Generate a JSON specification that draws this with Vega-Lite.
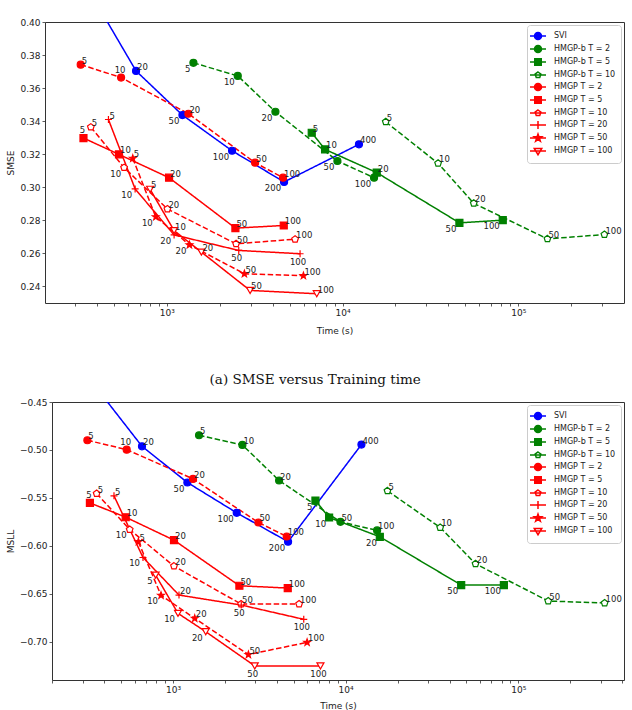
{
  "$schema": "https://vega.github.io/schema/vega-lite/v6.json",
  "padding": {"left": 5, "top": 17, "right": 3, "bottom": 2},
  "background": "white",
  "spacing": 36,
  "datasets": {
    "smse": [
      {"series": "SVI", "n": 10, "t": 335, "v": 0.425},
      {"series": "SVI", "n": 20, "t": 669, "v": 0.3704},
      {"series": "SVI", "n": 50, "t": 1228, "v": 0.3437},
      {"series": "SVI", "n": 100, "t": 2353, "v": 0.3221},
      {"series": "SVI", "n": 200, "t": 4650, "v": 0.3032},
      {"series": "SVI", "n": 400, "t": 12400, "v": 0.326},
      {"series": "HMGP-b T = 2", "n": 5, "t": 1418, "v": 0.3753},
      {"series": "HMGP-b T = 2", "n": 10, "t": 2535, "v": 0.3674},
      {"series": "HMGP-b T = 2", "n": 20, "t": 4151, "v": 0.3457},
      {"series": "HMGP-b T = 2", "n": 50, "t": 9350, "v": 0.3159},
      {"series": "HMGP-b T = 2", "n": 100, "t": 15110, "v": 0.3058},
      {"series": "HMGP-b T = 5", "n": 5, "t": 6680, "v": 0.333},
      {"series": "HMGP-b T = 5", "n": 10, "t": 7956, "v": 0.3229},
      {"series": "HMGP-b T = 5", "n": 20, "t": 15650, "v": 0.3089},
      {"series": "HMGP-b T = 5", "n": 50, "t": 46210, "v": 0.2785},
      {"series": "HMGP-b T = 5", "n": 100, "t": 81530, "v": 0.2801},
      {"series": "HMGP-b T = 10", "n": 5, "t": 17610, "v": 0.3396},
      {"series": "HMGP-b T = 10", "n": 10, "t": 34950, "v": 0.3145},
      {"series": "HMGP-b T = 10", "n": 20, "t": 55760, "v": 0.2903},
      {"series": "HMGP-b T = 10", "n": 50, "t": 146400, "v": 0.2688},
      {"series": "HMGP-b T = 10", "n": 100, "t": 308700, "v": 0.2714},
      {"series": "HMGP T = 2", "n": 5, "t": 324, "v": 0.3742},
      {"series": "HMGP T = 2", "n": 10, "t": 550, "v": 0.3664},
      {"series": "HMGP T = 2", "n": 20, "t": 1328, "v": 0.3445},
      {"series": "HMGP T = 2", "n": 50, "t": 3181, "v": 0.3149},
      {"series": "HMGP T = 2", "n": 100, "t": 4588, "v": 0.3058},
      {"series": "HMGP T = 5", "n": 5, "t": 336, "v": 0.3298},
      {"series": "HMGP T = 5", "n": 10, "t": 535, "v": 0.3199},
      {"series": "HMGP T = 5", "n": 20, "t": 1031, "v": 0.3058},
      {"series": "HMGP T = 5", "n": 50, "t": 2458, "v": 0.2753},
      {"series": "HMGP T = 5", "n": 100, "t": 4630, "v": 0.2769},
      {"series": "HMGP T = 10", "n": 5, "t": 370, "v": 0.3364},
      {"series": "HMGP T = 10", "n": 10, "t": 572, "v": 0.3119},
      {"series": "HMGP T = 10", "n": 20, "t": 1009, "v": 0.2869},
      {"series": "HMGP T = 10", "n": 50, "t": 2480, "v": 0.2658},
      {"series": "HMGP T = 10", "n": 100, "t": 5370, "v": 0.2686},
      {"series": "HMGP T = 20", "n": 5, "t": 466, "v": 0.341},
      {"series": "HMGP T = 20", "n": 10, "t": 661, "v": 0.299},
      {"series": "HMGP T = 20", "n": 20, "t": 1101, "v": 0.2712},
      {"series": "HMGP T = 20", "n": 50, "t": 2568, "v": 0.2618},
      {"series": "HMGP T = 20", "n": 100, "t": 5733, "v": 0.2598},
      {"series": "HMGP T = 50", "n": 5, "t": 641, "v": 0.3175},
      {"series": "HMGP T = 50", "n": 10, "t": 866, "v": 0.2821},
      {"series": "HMGP T = 50", "n": 20, "t": 1346, "v": 0.2652},
      {"series": "HMGP T = 50", "n": 50, "t": 2765, "v": 0.2477},
      {"series": "HMGP T = 50", "n": 100, "t": 5990, "v": 0.2465},
      {"series": "HMGP T = 100", "n": 5, "t": 804, "v": 0.2988},
      {"series": "HMGP T = 100", "n": 10, "t": 1101, "v": 0.2738},
      {"series": "HMGP T = 100", "n": 20, "t": 1575, "v": 0.2608},
      {"series": "HMGP T = 100", "n": 50, "t": 2979, "v": 0.2376},
      {"series": "HMGP T = 100", "n": 100, "t": 7133, "v": 0.2356}
    ],
    "msll": [
      {"series": "SVI", "n": 10, "t": 335, "v": -0.428},
      {"series": "SVI", "n": 20, "t": 661, "v": -0.4962},
      {"series": "SVI", "n": 50, "t": 1211, "v": -0.534},
      {"series": "SVI", "n": 100, "t": 2339, "v": -0.5656},
      {"series": "SVI", "n": 200, "t": 4641, "v": -0.5958},
      {"series": "SVI", "n": 400, "t": 12350, "v": -0.4944},
      {"series": "HMGP-b T = 2", "n": 5, "t": 1415, "v": -0.4847},
      {"series": "HMGP-b T = 2", "n": 10, "t": 2523, "v": -0.4948},
      {"series": "HMGP-b T = 2", "n": 20, "t": 4117, "v": -0.5319},
      {"series": "HMGP-b T = 2", "n": 50, "t": 9333, "v": -0.575},
      {"series": "HMGP-b T = 2", "n": 100, "t": 15220, "v": -0.584},
      {"series": "HMGP-b T = 5", "n": 5, "t": 6686, "v": -0.5528},
      {"series": "HMGP-b T = 5", "n": 10, "t": 8024, "v": -0.5705},
      {"series": "HMGP-b T = 5", "n": 20, "t": 15780, "v": -0.5906},
      {"series": "HMGP-b T = 5", "n": 50, "t": 46720, "v": -0.641},
      {"series": "HMGP-b T = 5", "n": 100, "t": 82580, "v": -0.641},
      {"series": "HMGP-b T = 10", "n": 5, "t": 17480, "v": -0.5427},
      {"series": "HMGP-b T = 10", "n": 10, "t": 35300, "v": -0.5809},
      {"series": "HMGP-b T = 10", "n": 20, "t": 56570, "v": -0.6188},
      {"series": "HMGP-b T = 10", "n": 50, "t": 149200, "v": -0.6576},
      {"series": "HMGP-b T = 10", "n": 100, "t": 316600, "v": -0.6597},
      {"series": "HMGP T = 2", "n": 5, "t": 319, "v": -0.4899},
      {"series": "HMGP T = 2", "n": 10, "t": 539, "v": -0.4997},
      {"series": "HMGP T = 2", "n": 20, "t": 1306, "v": -0.5302},
      {"series": "HMGP T = 2", "n": 50, "t": 3124, "v": -0.5757},
      {"series": "HMGP T = 2", "n": 100, "t": 4559, "v": -0.5903},
      {"series": "HMGP T = 5", "n": 5, "t": 330, "v": -0.5552},
      {"series": "HMGP T = 5", "n": 10, "t": 532, "v": -0.5702},
      {"series": "HMGP T = 5", "n": 20, "t": 1013, "v": -0.5941},
      {"series": "HMGP T = 5", "n": 50, "t": 2424, "v": -0.6417},
      {"series": "HMGP T = 5", "n": 100, "t": 4620, "v": -0.6441},
      {"series": "HMGP T = 10", "n": 5, "t": 361, "v": -0.5455},
      {"series": "HMGP T = 10", "n": 10, "t": 561, "v": -0.583},
      {"series": "HMGP T = 10", "n": 20, "t": 1013, "v": -0.6212},
      {"series": "HMGP T = 10", "n": 50, "t": 2479, "v": -0.6608},
      {"series": "HMGP T = 10", "n": 100, "t": 5375, "v": -0.6608},
      {"series": "HMGP T = 20", "n": 5, "t": 455, "v": -0.5479},
      {"series": "HMGP T = 20", "n": 10, "t": 670, "v": -0.6122},
      {"series": "HMGP T = 20", "n": 20, "t": 1083, "v": -0.6514},
      {"series": "HMGP T = 20", "n": 50, "t": 2485, "v": -0.6618},
      {"series": "HMGP T = 20", "n": 100, "t": 5720, "v": -0.6767},
      {"series": "HMGP T = 50", "n": 5, "t": 630, "v": -0.5958},
      {"series": "HMGP T = 50", "n": 10, "t": 852, "v": -0.6517},
      {"series": "HMGP T = 50", "n": 20, "t": 1336, "v": -0.6757},
      {"series": "HMGP T = 50", "n": 50, "t": 2734, "v": -0.7135},
      {"series": "HMGP T = 50", "n": 100, "t": 5982, "v": -0.7007},
      {"series": "HMGP T = 100", "n": 5, "t": 793, "v": -0.6306},
      {"series": "HMGP T = 100", "n": 10, "t": 1069, "v": -0.6705},
      {"series": "HMGP T = 100", "n": 20, "t": 1547, "v": -0.6896},
      {"series": "HMGP T = 100", "n": 50, "t": 2975, "v": -0.7253},
      {"series": "HMGP T = 100", "n": 100, "t": 7146, "v": -0.7253}
    ]
  },
  "vconcat": [
    {
      "width": 579,
      "height": 281,
      "data": {"name": "smse"},
      "encoding": {
        "x": {"field": "t", "type": "quantitative", "scale": {"type": "log", "domain": [203, 399000], "nice": false},
          "axis": {"title": "Time (s)", "values": [300,400,500,600,700,800,900,1000,2000,3000,4000,5000,6000,7000,8000,9000,10000,20000,30000,40000,50000,60000,70000,80000,90000,100000,200000,300000],
            "labelExpr": "datum.value == 1000 ? '10³' : datum.value == 10000 ? '10⁴' : datum.value == 100000 ? '10⁵' : ''", "titlePadding": 9}},
        "y": {"field": "v", "type": "quantitative", "scale": {"domain": [0.23, 0.40], "nice": false, "zero": false},
          "axis": {"title": "SMSE", "values": [0.24,0.26,0.28,0.30,0.32,0.34,0.36,0.38,0.40], "format": ".2f", "titlePadding": 4}}
      },
      "layer": [
        {"mark": {"type": "line", "strokeWidth": 1.5, "clip": true},
          "encoding": {
            "stroke": {"field": "series", "type": "nominal", "legend": null, "scale": {"domain": ["SVI","HMGP-b T = 2","HMGP-b T = 5","HMGP-b T = 10","HMGP T = 2","HMGP T = 5","HMGP T = 10","HMGP T = 20","HMGP T = 50","HMGP T = 100"], "range": ["#0000ff","#008000","#008000","#008000","#ff0000","#ff0000","#ff0000","#ff0000","#ff0000","#ff0000"]}},
            "strokeDash": {"field": "series", "type": "nominal", "legend": null, "scale": {"domain": ["SVI","HMGP-b T = 2","HMGP-b T = 5","HMGP-b T = 10","HMGP T = 2","HMGP T = 5","HMGP T = 10","HMGP T = 20","HMGP T = 50","HMGP T = 100"], "range": [[1,0],[5.5,2.5],[1,0],[5.5,2.5],[5.5,2.5],[1,0],[5.5,2.5],[1,0],[5.5,2.5],[1,0]]}},
            "order": {"field": "n", "type": "quantitative"}
          }},
        {"mark": {"type": "point", "clip": true, "strokeWidth": 1.2, "opacity": 1},
          "encoding": {
            "shape": {"field": "series", "type": "nominal", "legend": null, "scale": {"domain": ["SVI","HMGP-b T = 2","HMGP-b T = 5","HMGP-b T = 10","HMGP T = 2","HMGP T = 5","HMGP T = 10","HMGP T = 20","HMGP T = 50","HMGP T = 100"], "range": ["circle","circle","square","M0,-1L0.951,-0.309L0.588,0.809L-0.588,0.809L-0.951,-0.309Z","circle","square","M0,-1L0.951,-0.309L0.588,0.809L-0.588,0.809L-0.951,-0.309Z","M-1,0L1,0M0,-1L0,1","M0,-1L0.235,-0.324L0.951,-0.309L0.38,0.124L0.588,0.809L0,0.4L-0.588,0.809L-0.38,0.124L-0.951,-0.309L-0.235,-0.324Z","triangle-down"]}},
            "stroke": {"field": "series", "type": "nominal", "legend": null, "scale": {"domain": ["SVI","HMGP-b T = 2","HMGP-b T = 5","HMGP-b T = 10","HMGP T = 2","HMGP T = 5","HMGP T = 10","HMGP T = 20","HMGP T = 50","HMGP T = 100"], "range": ["#0000ff","#008000","#008000","#008000","#ff0000","#ff0000","#ff0000","#ff0000","#ff0000","#ff0000"]}},
            "fill": {"field": "series", "type": "nominal", "legend": null, "scale": {"domain": ["SVI","HMGP-b T = 2","HMGP-b T = 5","HMGP-b T = 10","HMGP T = 2","HMGP T = 5","HMGP T = 10","HMGP T = 20","HMGP T = 50","HMGP T = 100"], "range": ["#0000ff","#008000","#008000","white","#ff0000","#ff0000","white","white","#ff0000","white"]}},
            "size": {"field": "series", "type": "nominal", "legend": null, "scale": {"domain": ["SVI","HMGP-b T = 2","HMGP-b T = 5","HMGP-b T = 10","HMGP T = 2","HMGP T = 5","HMGP T = 10","HMGP T = 20","HMGP T = 50","HMGP T = 100"], "range": [49,49,49,41,49,49,41,64,88,70]}}
          }},
        {"transform": [{"filter": "indexof(['SVI|10','SVI|50','SVI|100','SVI|200','HMGP-b T = 2|5','HMGP-b T = 2|10','HMGP-b T = 2|20','HMGP-b T = 2|50','HMGP-b T = 2|100','HMGP-b T = 5|50','HMGP-b T = 5|100','HMGP T = 10|10','HMGP T = 20|10','HMGP T = 20|20','HMGP T = 50|10','HMGP T = 50|20','HMGP T = 20|50','HMGP T = 20|100','HMGP T = 2|10','HMGP T = 5|5'], datum.series + '|' + datum.n) < 0"}],
          "mark": {"type": "text", "align": "left", "baseline": "alphabetic", "dx": 1, "dy": -1, "fontSize": 8.5, "color": "#222", "clip": true},
          "encoding": {"text": {"field": "n", "type": "nominal"}}},
        {"transform": [{"filter": "indexof(['SVI|50','SVI|100','SVI|200','HMGP-b T = 2|5','HMGP-b T = 2|10','HMGP-b T = 2|20','HMGP-b T = 2|50','HMGP-b T = 2|100','HMGP-b T = 5|50','HMGP-b T = 5|100','HMGP T = 10|10','HMGP T = 20|10','HMGP T = 20|20','HMGP T = 50|10','HMGP T = 50|20'], datum.series + '|' + datum.n) >= 0"}],
          "mark": {"type": "text", "align": "right", "baseline": "top", "dx": -3, "dy": 2, "fontSize": 8.5, "color": "#222", "clip": true},
          "encoding": {"text": {"field": "n", "type": "nominal"}}},
        {"transform": [{"filter": "indexof(['HMGP T = 20|50','HMGP T = 20|100'], datum.series + '|' + datum.n) >= 0"}],
          "mark": {"type": "text", "align": "center", "baseline": "top", "dx": -2, "dy": 4, "fontSize": 8.5, "color": "#222", "clip": true},
          "encoding": {"text": {"field": "n", "type": "nominal"}}},
        {"transform": [{"filter": "indexof(['HMGP T = 2|10','HMGP T = 5|5'], datum.series + '|' + datum.n) >= 0"}],
          "mark": {"type": "text", "align": "center", "baseline": "bottom", "dx": -1, "dy": -3, "fontSize": 8.5, "color": "#222", "clip": true},
          "encoding": {"text": {"field": "n", "type": "nominal"}}},
        {"transform": [{"filter": "false"}],
          "mark": {"type": "point", "strokeWidth": 1.5, "opacity": 1},
          "encoding": {
            "shape": {"field": "series", "type": "nominal", "legend": {"title": null}, "scale": {"domain": ["SVI","HMGP-b T = 2","HMGP-b T = 5","HMGP-b T = 10","HMGP T = 2","HMGP T = 5","HMGP T = 10","HMGP T = 20","HMGP T = 50","HMGP T = 100"], "range": [
              "M-1.6,0L1.6,0M-0.7,0A0.7,0.7 0 1,0 0.7,0A0.7,0.7 0 1,0 -0.7,0Z",
              "M-1.6,0L1.6,0M-0.7,0A0.7,0.7 0 1,0 0.7,0A0.7,0.7 0 1,0 -0.7,0Z",
              "M-1.6,0L1.6,0M-0.65,-0.65L0.65,-0.65L0.65,0.65L-0.65,0.65Z",
              "M-1.6,0L1.6,0M0,-0.6L0.571,-0.185L0.353,0.485L-0.353,0.485L-0.571,-0.185Z",
              "M-1.6,0L1.6,0M-0.7,0A0.7,0.7 0 1,0 0.7,0A0.7,0.7 0 1,0 -0.7,0Z",
              "M-1.6,0L1.6,0M-0.65,-0.65L0.65,-0.65L0.65,0.65L-0.65,0.65Z",
              "M-1.6,0L1.6,0M0,-0.6L0.571,-0.185L0.353,0.485L-0.353,0.485L-0.571,-0.185Z",
              "M-1.6,0L1.6,0M0,-0.8L0,0.8",
              "M-1.6,0L1.6,0M0,-0.8L0.188,-0.259L0.761,-0.247L0.304,0.099L0.47,0.647L0,0.32L-0.47,0.647L-0.304,0.099L-0.761,-0.247L-0.188,-0.259Z",
              "M-1.6,0L1.6,0M-0.75,-0.5L0.75,-0.5L0,0.75Z"]}},
            "stroke": {"field": "series", "type": "nominal", "legend": {"title": null}, "scale": {"domain": ["SVI","HMGP-b T = 2","HMGP-b T = 5","HMGP-b T = 10","HMGP T = 2","HMGP T = 5","HMGP T = 10","HMGP T = 20","HMGP T = 50","HMGP T = 100"], "range": ["#0000ff","#008000","#008000","#008000","#ff0000","#ff0000","#ff0000","#ff0000","#ff0000","#ff0000"]}},
            "fill": {"field": "series", "type": "nominal", "legend": {"title": null}, "scale": {"domain": ["SVI","HMGP-b T = 2","HMGP-b T = 5","HMGP-b T = 10","HMGP T = 2","HMGP T = 5","HMGP T = 10","HMGP T = 20","HMGP T = 50","HMGP T = 100"], "range": ["#0000ff","#008000","#008000","white","#ff0000","#ff0000","white","white","#ff0000","white"]}}
          }}
      ],
      "resolve": {"scale": {"shape": "independent", "stroke": "independent", "fill": "independent", "strokeDash": "independent", "size": "independent"},
                  "legend": {"shape": "independent", "stroke": "independent", "fill": "independent", "strokeDash": "independent", "size": "independent"}}
    },
    {
      "spacing": 0,
      "bounds": "flush",
      "hconcat": [
        {
          "width": 7,
          "height": 278,
          "view": {"stroke": null},
          "data": {"values": []},
          "mark": {"type": "text"},
          "encoding": {}
        },
        {
          "width": 572,
          "height": 278,
          "data": {"name": "msll"},
          "title": {"text": "(a) SMSE versus Training time", "font": "DejaVu Serif", "fontSize": 13.5, "fontWeight": "normal", "color": "#111", "anchor": "middle", "frame": "bounds", "offset": 12},
          "encoding": {
            "x": {"field": "t", "type": "quantitative", "scale": {"type": "log", "domain": [199, 410000], "nice": false},
              "axis": {"title": "Time (s)", "values": [200,300,400,500,600,700,800,900,1000,2000,3000,4000,5000,6000,7000,8000,9000,10000,20000,30000,40000,50000,60000,70000,80000,90000,100000,200000,300000,400000],
                "labelExpr": "datum.value == 1000 ? '10³' : datum.value == 10000 ? '10⁴' : datum.value == 100000 ? '10⁵' : ''", "titlePadding": 7}},
            "y": {"field": "v", "type": "quantitative", "scale": {"domain": [-0.74, -0.45], "nice": false, "zero": false},
              "axis": {"title": "MSLL", "values": [-0.70,-0.65,-0.60,-0.55,-0.50,-0.45], "format": ".2f", "titlePadding": 4}}
          },
          "layer": [
            {"mark": {"type": "line", "strokeWidth": 1.5, "clip": true},
              "encoding": {
                "stroke": {"field": "series", "type": "nominal", "legend": null, "scale": {"domain": ["SVI","HMGP-b T = 2","HMGP-b T = 5","HMGP-b T = 10","HMGP T = 2","HMGP T = 5","HMGP T = 10","HMGP T = 20","HMGP T = 50","HMGP T = 100"], "range": ["#0000ff","#008000","#008000","#008000","#ff0000","#ff0000","#ff0000","#ff0000","#ff0000","#ff0000"]}},
                "strokeDash": {"field": "series", "type": "nominal", "legend": null, "scale": {"domain": ["SVI","HMGP-b T = 2","HMGP-b T = 5","HMGP-b T = 10","HMGP T = 2","HMGP T = 5","HMGP T = 10","HMGP T = 20","HMGP T = 50","HMGP T = 100"], "range": [[1,0],[5.5,2.5],[1,0],[5.5,2.5],[5.5,2.5],[1,0],[5.5,2.5],[1,0],[5.5,2.5],[1,0]]}},
                "order": {"field": "n", "type": "quantitative"}
              }},
            {"mark": {"type": "point", "clip": true, "strokeWidth": 1.2, "opacity": 1},
              "encoding": {
                "shape": {"field": "series", "type": "nominal", "legend": null, "scale": {"domain": ["SVI","HMGP-b T = 2","HMGP-b T = 5","HMGP-b T = 10","HMGP T = 2","HMGP T = 5","HMGP T = 10","HMGP T = 20","HMGP T = 50","HMGP T = 100"], "range": ["circle","circle","square","M0,-1L0.951,-0.309L0.588,0.809L-0.588,0.809L-0.951,-0.309Z","circle","square","M0,-1L0.951,-0.309L0.588,0.809L-0.588,0.809L-0.951,-0.309Z","M-1,0L1,0M0,-1L0,1","M0,-1L0.235,-0.324L0.951,-0.309L0.38,0.124L0.588,0.809L0,0.4L-0.588,0.809L-0.38,0.124L-0.951,-0.309L-0.235,-0.324Z","triangle-down"]}},
                "stroke": {"field": "series", "type": "nominal", "legend": null, "scale": {"domain": ["SVI","HMGP-b T = 2","HMGP-b T = 5","HMGP-b T = 10","HMGP T = 2","HMGP T = 5","HMGP T = 10","HMGP T = 20","HMGP T = 50","HMGP T = 100"], "range": ["#0000ff","#008000","#008000","#008000","#ff0000","#ff0000","#ff0000","#ff0000","#ff0000","#ff0000"]}},
                "fill": {"field": "series", "type": "nominal", "legend": null, "scale": {"domain": ["SVI","HMGP-b T = 2","HMGP-b T = 5","HMGP-b T = 10","HMGP T = 2","HMGP T = 5","HMGP T = 10","HMGP T = 20","HMGP T = 50","HMGP T = 100"], "range": ["#0000ff","#008000","#008000","white","#ff0000","#ff0000","white","white","#ff0000","white"]}},
                "size": {"field": "series", "type": "nominal", "legend": null, "scale": {"domain": ["SVI","HMGP-b T = 2","HMGP-b T = 5","HMGP-b T = 10","HMGP T = 2","HMGP T = 5","HMGP T = 10","HMGP T = 20","HMGP T = 50","HMGP T = 100"], "range": [49,49,49,41,49,49,41,64,88,70]}}
              }},
            {"transform": [{"filter": "indexof(['SVI|10','SVI|50','SVI|100','SVI|200','HMGP-b T = 5|5','HMGP-b T = 5|10','HMGP-b T = 5|20','HMGP-b T = 5|50','HMGP-b T = 5|100','HMGP T = 10|10','HMGP T = 20|10','HMGP T = 50|10','HMGP T = 100|5','HMGP T = 100|10','HMGP T = 100|20','HMGP T = 20|50','HMGP T = 20|100','HMGP T = 100|50','HMGP T = 100|100','HMGP T = 2|10','HMGP T = 5|5'], datum.series + '|' + datum.n) < 0"}],
              "mark": {"type": "text", "align": "left", "baseline": "alphabetic", "dx": 1, "dy": -1, "fontSize": 8.5, "color": "#222", "clip": true},
              "encoding": {"text": {"field": "n", "type": "nominal"}}},
            {"transform": [{"filter": "indexof(['SVI|50','SVI|100','SVI|200','HMGP-b T = 5|5','HMGP-b T = 5|10','HMGP-b T = 5|20','HMGP-b T = 5|50','HMGP-b T = 5|100','HMGP T = 10|10','HMGP T = 20|10','HMGP T = 50|10','HMGP T = 100|5','HMGP T = 100|10','HMGP T = 100|20'], datum.series + '|' + datum.n) >= 0"}],
              "mark": {"type": "text", "align": "right", "baseline": "top", "dx": -3, "dy": 2, "fontSize": 8.5, "color": "#222", "clip": true},
              "encoding": {"text": {"field": "n", "type": "nominal"}}},
            {"transform": [{"filter": "indexof(['HMGP T = 20|50','HMGP T = 20|100','HMGP T = 100|50','HMGP T = 100|100'], datum.series + '|' + datum.n) >= 0"}],
              "mark": {"type": "text", "align": "center", "baseline": "top", "dx": -2, "dy": 4, "fontSize": 8.5, "color": "#222", "clip": true},
              "encoding": {"text": {"field": "n", "type": "nominal"}}},
            {"transform": [{"filter": "indexof(['HMGP T = 2|10','HMGP T = 5|5'], datum.series + '|' + datum.n) >= 0"}],
              "mark": {"type": "text", "align": "center", "baseline": "bottom", "dx": -1, "dy": -3, "fontSize": 8.5, "color": "#222", "clip": true},
              "encoding": {"text": {"field": "n", "type": "nominal"}}},
            {"transform": [{"filter": "false"}],
              "mark": {"type": "point", "strokeWidth": 1.5, "opacity": 1},
              "encoding": {
                "shape": {"field": "series", "type": "nominal", "legend": {"title": null}, "scale": {"domain": ["SVI","HMGP-b T = 2","HMGP-b T = 5","HMGP-b T = 10","HMGP T = 2","HMGP T = 5","HMGP T = 10","HMGP T = 20","HMGP T = 50","HMGP T = 100"], "range": [
                  "M-1.6,0L1.6,0M-0.7,0A0.7,0.7 0 1,0 0.7,0A0.7,0.7 0 1,0 -0.7,0Z",
                  "M-1.6,0L1.6,0M-0.7,0A0.7,0.7 0 1,0 0.7,0A0.7,0.7 0 1,0 -0.7,0Z",
                  "M-1.6,0L1.6,0M-0.65,-0.65L0.65,-0.65L0.65,0.65L-0.65,0.65Z",
                  "M-1.6,0L1.6,0M0,-0.6L0.571,-0.185L0.353,0.485L-0.353,0.485L-0.571,-0.185Z",
                  "M-1.6,0L1.6,0M-0.7,0A0.7,0.7 0 1,0 0.7,0A0.7,0.7 0 1,0 -0.7,0Z",
                  "M-1.6,0L1.6,0M-0.65,-0.65L0.65,-0.65L0.65,0.65L-0.65,0.65Z",
                  "M-1.6,0L1.6,0M0,-0.6L0.571,-0.185L0.353,0.485L-0.353,0.485L-0.571,-0.185Z",
                  "M-1.6,0L1.6,0M0,-0.8L0,0.8",
                  "M-1.6,0L1.6,0M0,-0.8L0.188,-0.259L0.761,-0.247L0.304,0.099L0.47,0.647L0,0.32L-0.47,0.647L-0.304,0.099L-0.761,-0.247L-0.188,-0.259Z",
                  "M-1.6,0L1.6,0M-0.75,-0.5L0.75,-0.5L0,0.75Z"]}},
                "stroke": {"field": "series", "type": "nominal", "legend": {"title": null}, "scale": {"domain": ["SVI","HMGP-b T = 2","HMGP-b T = 5","HMGP-b T = 10","HMGP T = 2","HMGP T = 5","HMGP T = 10","HMGP T = 20","HMGP T = 50","HMGP T = 100"], "range": ["#0000ff","#008000","#008000","#008000","#ff0000","#ff0000","#ff0000","#ff0000","#ff0000","#ff0000"]}},
                "fill": {"field": "series", "type": "nominal", "legend": {"title": null}, "scale": {"domain": ["SVI","HMGP-b T = 2","HMGP-b T = 5","HMGP-b T = 10","HMGP T = 2","HMGP T = 5","HMGP T = 10","HMGP T = 20","HMGP T = 50","HMGP T = 100"], "range": ["#0000ff","#008000","#008000","white","#ff0000","#ff0000","white","white","#ff0000","white"]}}
              }}
          ],
          "resolve": {"scale": {"shape": "independent", "stroke": "independent", "fill": "independent", "strokeDash": "independent", "size": "independent"},
                      "legend": {"shape": "independent", "stroke": "independent", "fill": "independent", "strokeDash": "independent", "size": "independent"}}
        }
      ],
      "resolve": {"scale": {"shape": "independent", "stroke": "independent", "fill": "independent", "strokeDash": "independent", "size": "independent"},
                  "legend": {"shape": "independent", "stroke": "independent", "fill": "independent", "strokeDash": "independent", "size": "independent"}}
    }
  ],
  "resolve": {"scale": {"shape": "independent", "stroke": "independent", "fill": "independent", "strokeDash": "independent", "size": "independent"},
              "legend": {"shape": "independent", "stroke": "independent", "fill": "independent", "strokeDash": "independent", "size": "independent"}},
  "config": {
    "font": "DejaVu Sans",
    "view": {"stroke": "#333", "strokeWidth": 1},
    "axis": {"domain": false, "grid": false, "labelFontSize": 9, "titleFontSize": 9, "titleFontWeight": "normal", "labelColor": "#222", "titleColor": "#222", "tickColor": "#333", "tickSize": 3, "tickWidth": 0.8, "labelPadding": 2, "labelFont": "DejaVu Sans", "titleFont": "DejaVu Sans"},
    "legend": {"orient": "top-right", "offset": 3, "padding": 5, "strokeColor": "#cccccc", "fillColor": "rgba(255,255,255,0.85)", "cornerRadius": 3, "labelFontSize": 8, "labelFont": "DejaVu Sans", "labelColor": "#222", "symbolSize": 100, "symbolStrokeWidth": 1.5, "labelOffset": 10, "rowPadding": -2.1}
  }
}
